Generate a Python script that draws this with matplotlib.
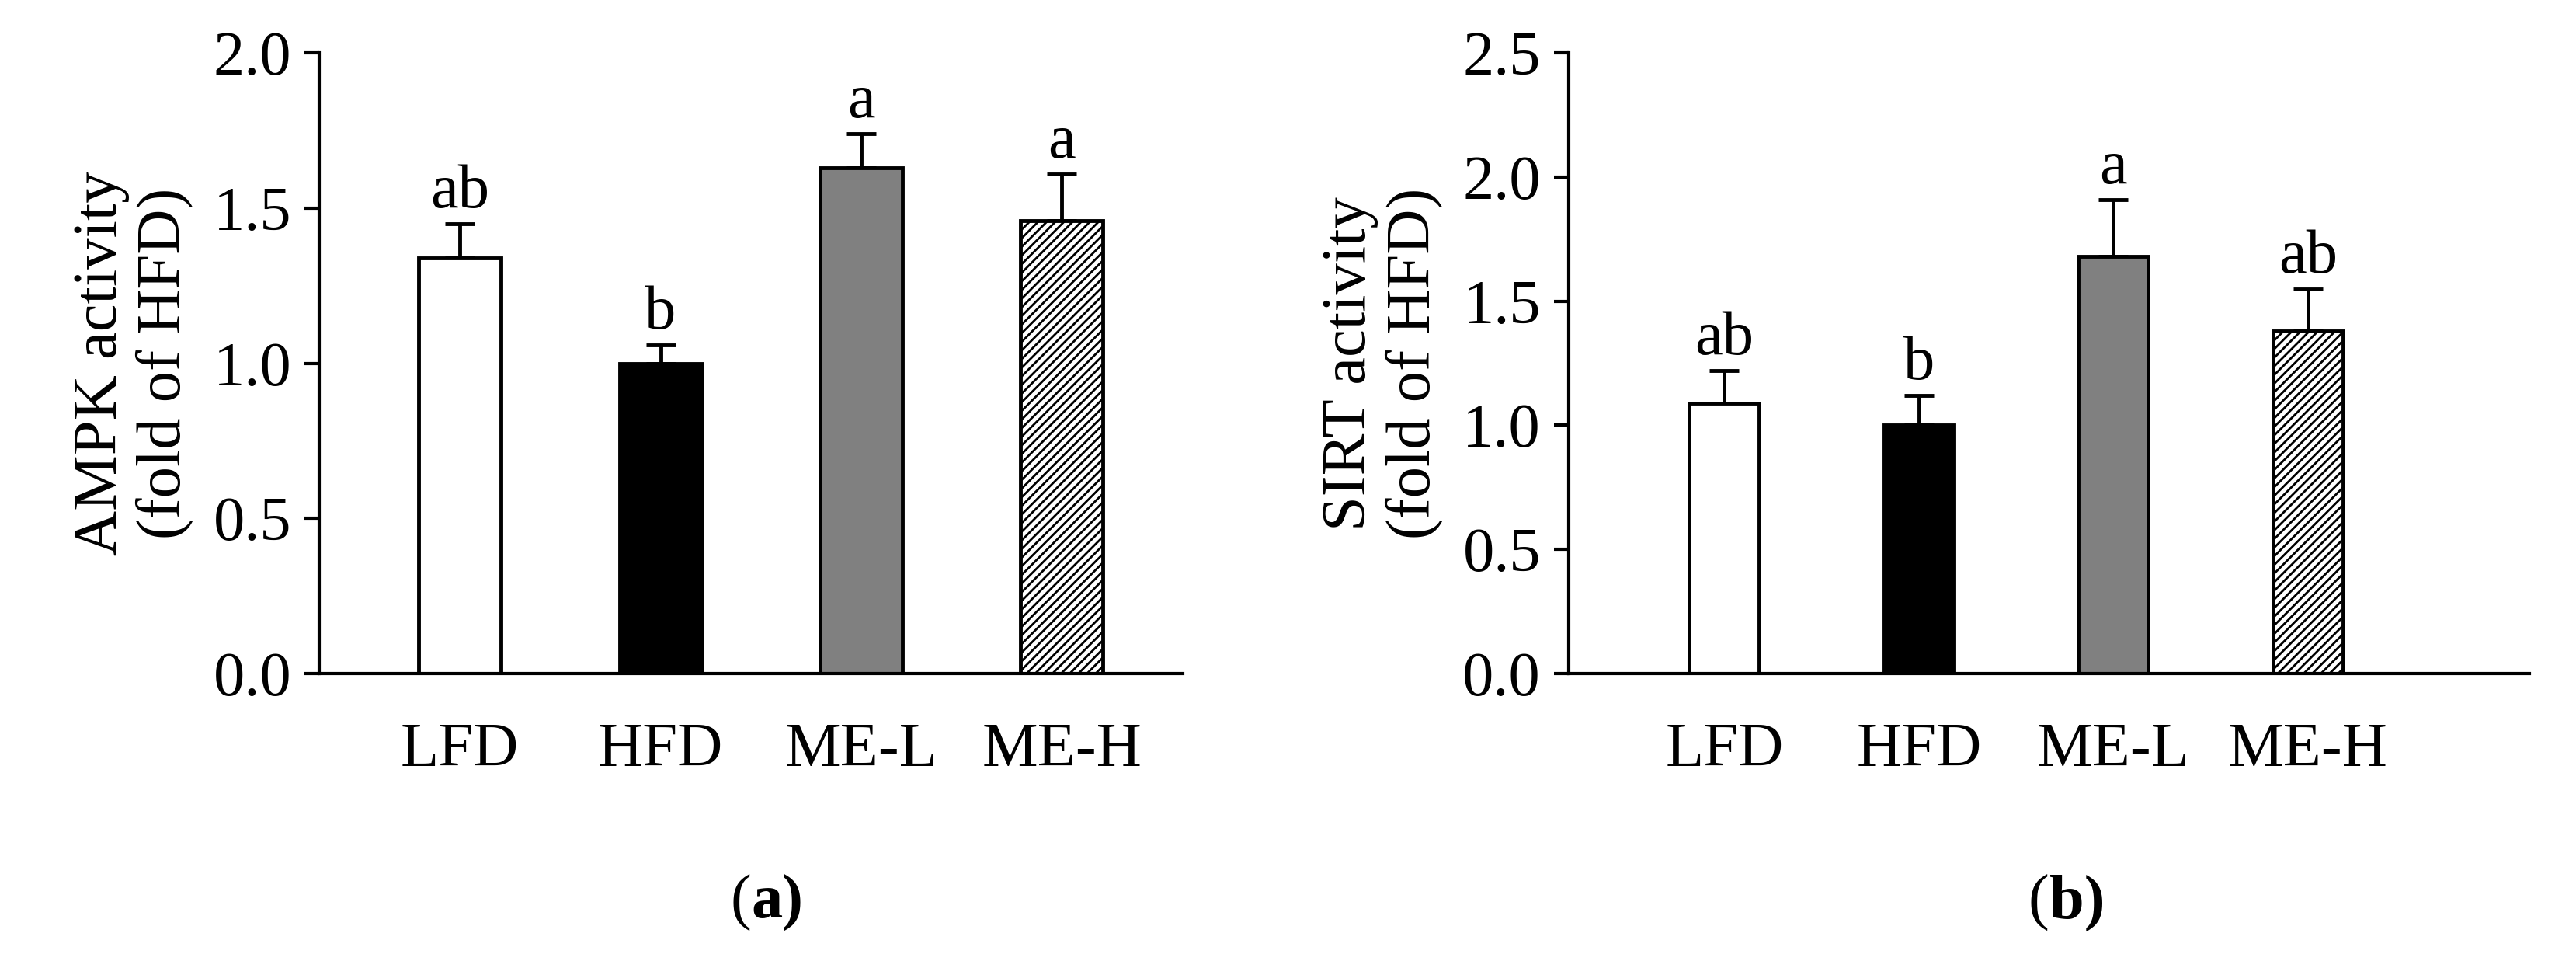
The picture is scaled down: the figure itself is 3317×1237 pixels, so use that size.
import matplotlib
matplotlib.use("Agg")
import matplotlib.pyplot as plt

groups = ["LFD", "HFD", "ME-L", "ME-H"]
ampk = [1.34, 1.00, 1.63, 1.46]
ampk_err = [0.11, 0.06, 0.11, 0.15]
ampk_sig = ["ab", "b", "a", "a"]
sirt = [1.09, 1.00, 1.68, 1.38]
sirt_err = [0.13, 0.12, 0.23, 0.17]
sirt_sig = ["ab", "b", "a", "ab"]

plt.rcParams['font.family'] = ['Liberation Serif', 'DejaVu Serif']
plt.rcParams['hatch.linewidth'] = 2.0
FS = 58
fig = plt.figure(figsize=(33.17, 12.37), dpi=100)

faces = ["white", "black", "#808080", "white"]
hatches = [None, None, None, "///"]

def panel(rect, vals, errs, sigs, ymax, ylabel, tag, xlim, bw):
    ax = fig.add_axes(rect)
    x = range(len(groups))
    for i in x:
        ax.bar(i, vals[i], width=bw, color=faces[i], edgecolor="black",
               linewidth=3.5, hatch=hatches[i], zorder=2)
        ax.errorbar(i, vals[i], yerr=[[0], [errs[i]]], color="black",
                    capsize=14, elinewidth=3.5, capthick=3.5, zorder=1)
        ax.text(i, vals[i] + errs[i] + ymax*0.005, sigs[i], ha="center",
                va="bottom", fontsize=FS)
    ax.set_xlim(*xlim)
    ax.set_ylim(0, ymax)
    n = int(round(ymax/0.5)) + 1
    ax.set_yticks([v*0.5 for v in range(n)])
    ax.set_yticklabels([f"{v*0.5:.1f}" for v in range(n)], fontsize=FS)
    ax.set_xticks(list(x))
    ax.set_xticklabels(groups, fontsize=FS)
    ax.tick_params(axis="x", length=0, pad=45)
    ax.tick_params(axis="y", length=14, width=3, pad=12)
    for s in ["top", "right"]:
        ax.spines[s].set_visible(False)
    for s in ["left", "bottom"]:
        ax.spines[s].set_linewidth(3)
    ax.set_ylabel(ylabel, fontsize=FS, labelpad=18, linespacing=1.15)
    cx = rect[0] + rect[2]/2
    fig.text(cx, 0.06, "(", ha="right", va="center", fontsize=FS)
    fig.text(cx, 0.06, tag, ha="left", va="center", fontsize=FS, fontweight="bold")
    return ax

panel([0.124, 0.299, 0.335, 0.646], ampk, ampk_err, ampk_sig, 2.0,
      "AMPK activity\n(fold of HFD)", "a)", (-0.7, 3.6), 0.41)
panel([0.609, 0.299, 0.373, 0.646], sirt, sirt_err, sirt_sig, 2.5,
      "SIRT activity\n(fold of HFD)", "b)", (-0.8, 4.14), 0.36)

fig.savefig("out.png", dpi=100)
